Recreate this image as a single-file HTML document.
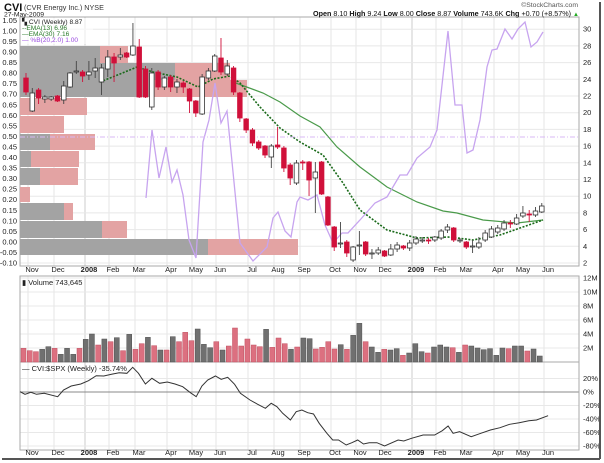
<!DOCTYPE html>
<html><head><meta charset="utf-8"><style>
body{margin:0;background:#fff;width:604px;height:463px;overflow:hidden}
svg{display:block;font-family:"Liberation Sans",sans-serif}
</style></head><body>
<svg id="s" width="604" height="463" xmlns="http://www.w3.org/2000/svg">
<rect width="604" height="463" fill="#fff"/>
<g id="grid"></g>
<g id="vbp"></g>
<g id="vol"></g>
<polyline id="e30" fill="none" stroke="#4a9a4a" stroke-width="1.2"/>
<polyline id="e13" fill="none" stroke="#1a6a1a" stroke-width="1.6" stroke-dasharray="2,1.5"/>
<polyline id="pb" fill="none" stroke="#c7a4ef" stroke-width="1.3"/>
<line x1="20" y1="137" x2="579" y2="137" stroke="#d8b8f4" stroke-dasharray="5,2,1,2"/>
<g id="cand"></g>
<polyline id="rs" fill="none" stroke="#333" stroke-width="1"/>
<g id="txt" font-size="7.5" fill="#222"></g>
<text x="4" y="11" font-size="11" font-weight="bold" fill="#111">CVI</text>
<text x="24" y="10" font-size="7.2" fill="#333">(CVR Energy Inc.) NYSE</text>
<text x="4" y="16.5" font-size="6.8" fill="#222">27-May-2009</text>
<text x="578" y="7" font-size="6.8" fill="#555" text-anchor="end">©StockCharts.com</text>
<text x="571" y="16" font-size="7.2" fill="#111" text-anchor="end"><tspan font-weight="bold">Open</tspan> 8.10 <tspan font-weight="bold">High</tspan> 9.24 <tspan font-weight="bold">Low</tspan> 8.00 <tspan font-weight="bold">Close</tspan> 8.87 <tspan font-weight="bold">Volume</tspan> 743.6K <tspan font-weight="bold">Chg</tspan> +0.70 (+8.57%)</text>
<text x="573" y="16" font-size="6" fill="#2a2">▲</text>
<g font-size="6.6">
<rect x="21" y="18" width="72" height="26" fill="#fff" opacity="0.6"/>
<text x="22" y="24" fill="#222">▚ CVI (Weekly) 8.87</text>
<text x="22" y="30" fill="#2a7a2a">--EMA(13) 6.96</text>
<text x="22" y="36" fill="#2a7a2a">—EMA(30) 7.16</text>
<text x="22" y="42" fill="#9a4ae0">— %B(20,2.0) 1.00</text>
</g>
<g font-size="7.5">
<text x="22" y="285" fill="#222">▮ Volume 743,645</text>
<text x="22" y="371" fill="#222">— CVI:$SPX (Weekly) -35.74%</text>
</g>
<line x1="600" y1="2" x2="600" y2="459" stroke="#555" stroke-width="2"/>
<line x1="2" y1="459" x2="600" y2="459" stroke="#555" stroke-width="2"/>
</svg>
<script>
var NS="http://www.w3.org/2000/svg";
function el(p,t,a,txt){var e=document.createElementNS(NS,t);for(var k in a)e.setAttribute(k,a[k]);if(txt!=null)e.textContent=txt;document.getElementById(p).appendChild(e);return e;}
var months=[[32,"Nov"],[58,"Dec"],[89,"2008",1],[113,"Feb"],[139,"Mar"],[171,"Apr"],[196,"May"],[220,"Jun"],[252,"Jul"],[278,"Aug"],[304,"Sep"],[335,"Oct"],[360,"Nov"],[385,"Dec"],[416,"2009",1],[440,"Feb"],[466,"Mar"],[498,"Apr"],[523,"May"],[548,"Jun"]];
var panels=[[17,266],[276,362],[362,450]];
panels.forEach(function(p){months.forEach(function(m){el("grid","line",{x1:m[0]-4,y1:p[0],x2:m[0]-4,y2:p[1],stroke:m[2]?"#ccc":"#e6e6e6"});});});
for(var p=2;p<=30;p+=2){var y=263-(p-2)*8.35;el("grid","line",{x1:20,y1:y,x2:579,y2:y,stroke:"#e8e8e8"});el("txt","text",{x:583,y:y+2.5},""+p);}
for(var i=0;i<=23;i++){var v=1.05-i*0.05;var y=263-(v+0.1)*211;el("txt","text",{x:17,y:y+2.5,"text-anchor":"end"},v.toFixed(2));}
for(var m=2;m<=12;m+=2){var y=362-m*7;el("grid","line",{x1:20,y1:y,x2:579,y2:y,stroke:"#e8e8e8"});el("txt","text",{x:583,y:y+2.5},m+"M");}
for(var r=20;r>=-80;r-=20){var y=392-r*0.675;el("grid","line",{x1:20,y1:y,x2:579,y2:y,stroke:r==0?"#888":"#e8e8e8"});el("txt","text",{x:583,y:y+2.5},r+"%");}
months.forEach(function(m){[272,455].forEach(function(y){el("txt","text",{x:m[0],y:y,"text-anchor":"middle","font-weight":m[2]?"bold":"normal"},m[1]);});});
panels.forEach(function(p){el("grid","rect",{x:20,y:p[0],width:559,height:p[1]-p[0],fill:"none",stroke:"#aaa"});});
var vb=[[46,63,100,128],[63,80,175,230],[80,97,153,247],[98,115,20,87],[116,133,20,64],[134,150,50,95],[151,167,31,79],[168,185,40,78],[187,202,20,30],[203,220,64,73],[221,238,102,127],[239,255,208,298]];
vb.forEach(function(b){if(b[2]>20)el("vbp","rect",{x:20,y:b[0],width:b[2]-20,height:b[1]-b[0],fill:"#a3a3a3"});el("vbp","rect",{x:b[2],y:b[0],width:b[3]-b[2],height:b[1]-b[0],fill:"#e3a3a3"});});
var C=[[78,92,73,95,1],[93,111,88,112,0],[90,98,88,104,1],[97,99,95,103,0],[97,99,96,101,0],[96,101,95,102,1],[86,100,81,104,0],[73,87,72,88,0],[71,72,61,74,0],[72,76,70,82,1],[72,75,61,80,0],[68,71,58,78,0],[68,82,64,95,0],[57,69,50,77,0],[57,63,53,82,1],[55,57,48,60,0],[53,57,52,58,1],[46,55,23,56,0],[47,97,39,98,1],[69,97,66,98,1],[73,107,68,110,0],[72,87,70,90,1],[78,87,76,90,0],[77,87,75,92,1],[82,87,79,93,0],[83,87,81,93,1],[89,101,88,113,1],[101,113,100,117,1],[77,114,74,115,0],[71,78,68,80,0],[56,71,54,72,0],[58,72,38,75,1],[66,74,60,76,0],[68,92,66,95,1],[93,118,92,122,1],[119,130,118,133,1],[130,143,128,146,1],[142,148,140,150,1],[146,155,145,158,1],[146,157,144,168,0],[145,147,127,149,1],[148,168,146,172,1],[165,178,163,185,1],[163,183,160,185,0],[162,163,160,170,1],[162,180,161,196,1],[172,178,162,213,0],[162,194,161,195,1],[197,225,196,226,1],[227,247,226,251,1],[243,244,222,248,0],[242,253,240,257,1],[247,260,246,262,0],[245,246,231,255,0],[242,254,241,256,1],[253,254,249,259,0],[250,253,247,255,0],[251,256,250,257,1],[249,255,244,256,0],[245,249,242,252,0],[246,248,245,250,1],[243,248,240,251,0],[239,243,236,245,0],[240,241,237,243,0],[240,241,238,244,1],[237,240,236,242,0],[231,238,229,240,0],[227,230,224,233,0],[228,240,227,242,1],[240,241,238,243,0],[242,247,241,249,1],[246,247,240,253,0],[243,247,237,249,0],[233,240,230,242,0],[229,237,226,238,0],[228,232,225,234,0],[223,229,220,231,0],[223,224,220,228,1],[218,224,214,225,0],[213,216,206,218,0],[214,215,210,222,1],[211,215,207,217,0],[206,212,203,213,0]];
C.forEach(function(c,i){var x=26+i*6.29;var col=c[4]?"#d0103a":"#333";
el("cand","line",{x1:x,y1:c[2],x2:x,y2:c[3],stroke:c[4]?"#d0103a":"#444","stroke-width":0.9});
var h=Math.max(c[1]-c[0],1);el("cand","rect",{x:x-2.3,y:c[0],width:4.6,height:h,fill:c[4]?"#d0103a":"#fff",stroke:col,"stroke-width":0.8});});
var V="r265 r272 r275 g268 g260 r265 g283 g265 g283 r265 g238 g222 r255 g237 r245 g233 r272 g223 r268 r251 g232 r257 g270 r270 g230 r245 r217 r242 g207 g253 g263 r245 g270 r258 r204 r258 r237 r255 r260 g208 r262 r234 r251 g268 r261 g234 g236 r267 r262 r245 r267 g254 r268 g226 g190 r245 g261 g277 r268 g270 g266 r286 g279 g251 g275 r279 g261 g255 g261 r263 g277 r255 g258 g264 g269 g266 g286 g264 r266 g258 g258 r273 g267 g288".split(" ");
V.forEach(function(s,i){var x=23.5+i*6.22;var top=260+(+s.slice(1))/3;el("vol","rect",{x:x-2.5,y:top,width:5,height:362-top,fill:s[0]=="r"?"#dc7080":"#707070",stroke:s[0]=="r"?"#c05060":"#505050","stroke-width":0.5});});
function pts(id,a){document.getElementById(id).setAttribute("points",a.map(function(p){return p.join(",")}).join(" "));}
pts("e13",[[100,82],[120,74],[137,67],[153,72],[177,77],[198,87],[213,79],[230,76],[240,83],[260,107],[280,128],[300,142],[323,155],[343,183],[360,210],[387,230],[417,238],[450,237],[473,240],[500,235],[543,220]]);
pts("e30",[[233,82],[263,93],[280,102],[300,116],[320,127],[337,147],[360,167],[387,187],[417,202],[443,211],[457,213],[483,220],[517,223],[543,220]]);
pts("pb",[[146,198],[152,130],[159,178],[166,147],[172,182],[177,170],[183,195],[189,240],[196,258],[203,142],[209,120],[215,83],[221,123],[227,111],[240,243],[253,261],[267,247],[273,218],[278,212],[285,231],[291,237],[297,202],[300,197],[308,200],[317,195],[325,225],[333,243],[342,233],[348,233],[360,220],[375,203],[387,197],[400,175],[407,175],[417,158],[430,147],[437,130],[448,31],[455,105],[462,105],[467,153],[473,150],[480,120],[487,67],[492,50],[497,49],[505,29],[512,39],[518,29],[525,22],[531,47],[537,42],[543,32]]);
var R=[[52,395],[65,403],[80,397],[95,403],[115,400],[150,410],[165,390],[185,378],[210,372],[230,362],[250,347],[270,348],[290,343],[310,338],[330,340],[345,322],[360,340],[378,372],[395,355],[415,370],[435,366],[455,372],[475,380],[495,398],[510,410],[525,378],[540,360],[560,348],[575,358],[592,352],[610,373],[625,400],[650,420],[670,433],[690,445],[705,430],[720,440],[735,460],[755,480],[770,455],[785,450],[800,458],[815,462],[830,490],[850,520],[865,540],[880,540],[900,555],[915,548],[930,540],[945,552],[960,548],[980,548],[1000,558],[1035,540],[1050,543],[1070,535],[1100,525],[1130,525],[1150,512],[1165,498],[1178,520],[1195,515],[1225,530],[1250,520],[1275,510],[1300,503],[1325,493],[1350,488],[1375,482],[1395,480],[1425,467]];
pts("rs",R.map(function(p){return [(p[0]/2.6).toFixed(1),(260+p[1]/3).toFixed(1)]}));
</script>
</body></html>
